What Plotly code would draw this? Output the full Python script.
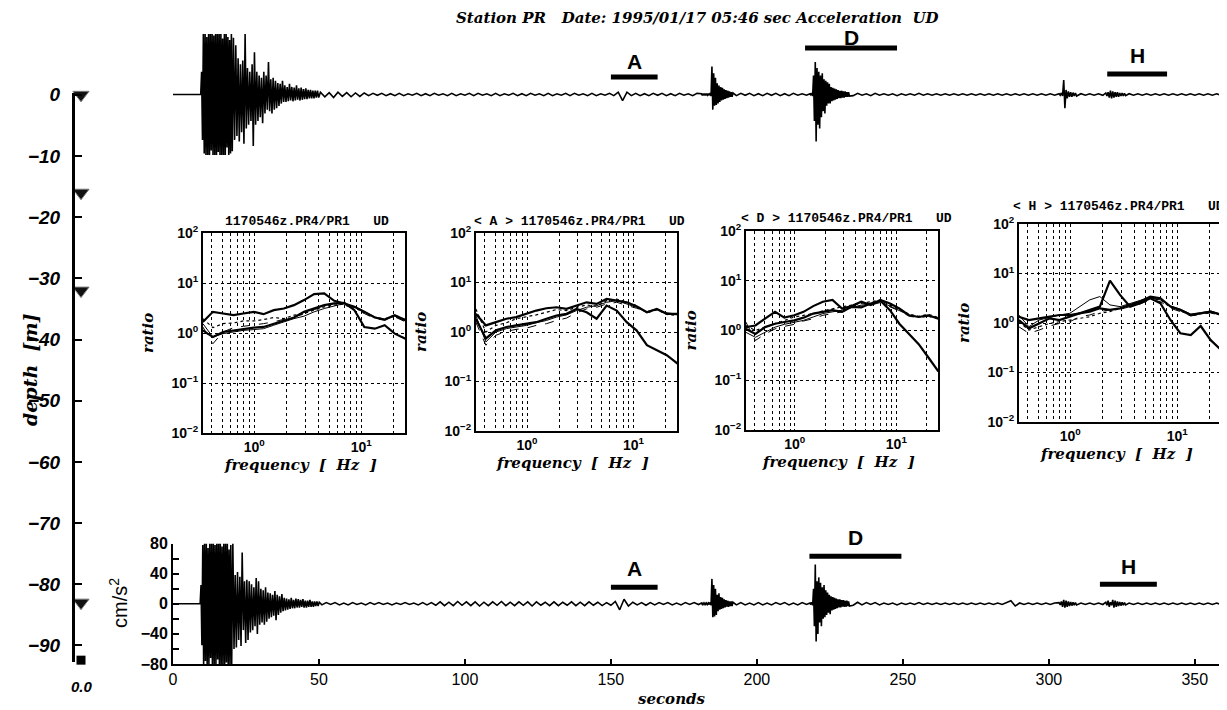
import plotly.graph_objects as go

W, H = 1227, 710          # target picture size
OFF = 8                   # page body margin in which the figure div is placed
FW, FH = W - OFF, H - OFF  # figure size so that it fills the window exactly

# ======================= DATA =======================
# --- spectral ratio panels (ratio PR4/PR1 vs frequency) ---
FREQ_HZ = [0.33, 0.41, 0.51, 0.64, 0.79, 0.99, 1.22, 1.52, 1.89, 2.35, 2.92,
           3.63, 4.51, 5.6, 6.97, 8.65, 10.7, 13.4, 16.6, 20.6, 26.0]
PANEL_TITLES = ["1170546z.PR4/PR1\u00a0\u00a0\u00a0UD",
                "<\u00a0A\u00a0>\u00a01170546z.PR4/PR1\u00a0\u00a0\u00a0UD",
                "<\u00a0D\u00a0>\u00a01170546z.PR4/PR1\u00a0\u00a0\u00a0UD",
                "<\u00a0H\u00a0>\u00a01170546z.PR4/PR1\u00a0\u00a0\u00a0UD"]

P1_UPPER = [1.67, 2.65, 2.45, 2.27, 2.45, 2.65, 2.38, 2.86, 3.09, 3.61, 4.55, 6.0, 6.19, 4.41, 3.9, 3.34, 2.65, 2.04, 1.86, 2.27, 1.8]
P1_LOWER = [1.13, 0.83, 1.05, 1.13, 1.22, 1.28, 1.32, 1.54, 1.8, 2.04, 2.65, 3.09, 3.61, 3.9, 4.02, 2.86, 1.32, 1.22, 1.43, 0.97, 0.77]
P1_THIN1 = [1.54, 0.83, 0.97, 1.05, 1.13, 1.17, 1.22, 1.43, 1.67, 1.94, 2.17, 2.65, 3.09, 3.44, 3.9, 3.34, 2.65, 2.1, 1.86, 2.17, 1.74]
P1_THIN2 = [1.94, 1.28, 1.54, 1.59, 1.74, 1.74, 1.86, 2.04, 1.94, 2.27, 2.45, 2.86, 3.34, 3.61, 3.78, 3.24, 2.53, 2.04, 1.91, 2.27, 1.86]
P1_THIN3 = [1.32, 0.61, 1.05, 1.28, 1.36, 1.43, 1.54, 1.67, 1.86, 2.1, 2.38, 2.95, 3.44, 3.9, 3.61, 3.09, 2.45, 1.94, 1.8, 2.1, 1.67]

P2_UPPER = [2.33, 1.36, 1.58, 1.85, 2.0, 2.33, 2.71, 3.02, 3.16, 2.93, 3.41, 3.98, 3.69, 4.64, 4.3, 3.98, 3.31, 2.51, 2.93, 2.33, 2.33]
P2_LOWER = [1.85, 0.74, 1.08, 1.26, 1.36, 1.47, 1.58, 1.85, 2.15, 2.33, 2.93, 2.51, 1.85, 3.41, 2.71, 1.58, 1.08, 0.54, 0.43, 0.34, 0.23]
P2_THIN1 = [2.15, 0.63, 1.0, 1.17, 1.26, 1.36, 1.54, 1.71, 2.0, 2.22, 2.71, 3.16, 3.41, 3.98, 4.3, 3.69, 3.16, 2.51, 2.84, 2.33, 2.22]
P2_THIN2 = [2.93, 1.0, 1.36, 1.54, 1.85, 2.0, 2.22, 2.51, 2.84, 2.71, 3.16, 3.52, 3.31, 4.3, 4.64, 3.98, 3.41, 2.44, 2.8, 2.26, 2.15]
P2_THIN3 = [1.58, 0.54, 0.86, 1.03, 1.13, 1.2, 1.36, 1.47, 1.71, 1.91, 2.44, 2.93, 3.16, 3.69, 3.98, 3.52, 3.02, 2.59, 2.93, 2.44, 2.29]

P3_UPPER = [1.17, 1.26, 1.73, 2.37, 1.81, 2.02, 2.37, 3.09, 3.79, 4.1, 2.77, 3.09, 3.79, 3.24, 4.1, 3.5, 2.77, 2.02, 1.87, 2.02, 1.73]
P3_LOWER = [1.08, 0.85, 1.17, 1.37, 1.48, 1.6, 1.81, 2.19, 2.37, 2.56, 2.37, 2.99, 2.9, 3.5, 3.97, 2.56, 1.37, 0.85, 0.53, 0.29, 0.15]
P3_THIN1 = [0.92, 0.73, 0.92, 1.17, 1.33, 1.48, 1.6, 1.87, 2.19, 2.37, 2.56, 2.9, 3.24, 3.4, 3.79, 3.09, 2.56, 2.02, 1.87, 2.02, 1.73]
P3_THIN2 = [1.26, 1.0, 1.17, 1.37, 1.6, 1.87, 2.02, 2.19, 2.48, 2.77, 2.99, 3.24, 3.5, 3.79, 4.1, 3.24, 2.64, 2.12, 1.93, 2.12, 1.81]
P3_THIN3 = [1.48, 0.63, 0.85, 1.08, 1.21, 1.33, 1.55, 1.73, 2.02, 2.19, 2.37, 2.77, 3.09, 3.24, 3.65, 2.99, 2.48, 1.93, 1.81, 1.93, 1.65]

P4_UPPER = [1.34, 1.15, 1.24, 1.34, 1.45, 1.45, 1.57, 1.7, 1.98, 1.84, 1.98, 2.32, 2.71, 3.42, 3.16, 2.14, 1.84, 1.45, 1.57, 1.7, 1.45]
P4_LOWER = [1.15, 0.78, 0.98, 1.24, 1.15, 1.34, 1.57, 1.84, 2.14, 7.2, 3.7, 2.14, 2.5, 3.16, 2.5, 1.15, 0.62, 0.57, 0.87, 0.45, 0.28]
P4_THIN1 = [1.45, 0.84, 1.15, 1.3, 1.45, 1.57, 2.14, 2.93, 3.42, 2.32, 2.14, 2.5, 2.93, 3.31, 2.93, 2.21, 1.89, 1.52, 1.62, 1.75, 1.5]
P4_THIN2 = [1.06, 0.72, 0.84, 0.98, 1.06, 1.15, 1.24, 1.34, 1.57, 1.7, 1.98, 2.32, 2.58, 3.16, 2.93, 2.08, 1.78, 1.43, 1.55, 1.62, 1.43]
P4_THIN3 = [0.84, 0.62, 0.72, 0.87, 0.98, 1.06, 1.34, 1.45, 1.7, 1.84, 1.89, 2.14, 2.43, 2.93, 2.71, 1.98, 1.7, 1.39, 1.48, 1.6, 1.39]

GRID_FREQ = [0.4, 0.5, 0.6, 0.7, 0.8, 0.9, 1, 2, 3, 4, 5, 6, 7, 8, 9, 10, 20]
RATIO_TICKS = [0.01, 0.1, 1, 10, 100]
RATIO_TICKTEXT = ["10<sup>\u22122</sup>", "10<sup>\u22121</sup>", "10<sup>0</sup>", "10<sup>1</sup>", "10<sup>2</sup>"]

# --- depth column ---
DEPTH_TICKS = [0, -10, -20, -30, -40, -50, -60, -70, -80, -90]
DEPTH_TICKTEXT = ["0", "\u221210", "\u221220", "\u221230", "\u221240", "\u221250", "\u221260", "\u221270", "\u221280", "\u221290"]
SENSOR_DEPTHS = [0, -16, -32, -83]
BASE_DEPTH = [-92.4]

# --- acceleration traces (cm/s^2), segments: start time, sample step, peak values ---
LOW_PRE = [0, 0]
LOW_MAIN = [25, -55, 78, -80, 80, -76, 80, -80, 74, -80, 80, -72, 80, -80, 80, -80, 78, -80, 80, -74,
            80, -80, 80, -80, 76, -80, 80, -80, 80, -78, 80, -80, 72, -80, 78]
LOW_CODA = [-80, 80, -60, 38, -58, 42, -48, 36, -56, 68, -35, 30, -52, 32, -48, 30, -38, 26, -35, 22,
            -30, 34, -40, 30, -28, 20, -25, 18, -28, 22, -24, 15, -20, 14, -18, 12, -16, 17, -22, 12,
            -15, 10, -12, 13, -10, 8, -9, 7, -8, 6, -7, 8, -6, 5, -6, 7, -5, 6, -5, 5,
            -4, 6, -5, 4, -5, 4, -4, 5, -4, 3, -4, 3, -3, 3, -3, 2]
LOW_Q1 = [-1.5, 1.5, -1, 1.5, -1.5, 1, -1.5, 1.5, -1, 1, -1.5, 1.5, -1, 1.5, -1, 1, -1.5, 1, -1, 1.5,
          -1, 1, -1.5, 1.5, -1.5, 1.5,
          -2, 2.5, -2.5, 2, -2.5, 3, -2, 2.5, -2.5, 2.5, -3, 2, -2.5, 2.5, -2, 3, -2.5, 2, -2.5, 2.5,
          -2, 2.5, -3, 2.5, -2, 2, -2.5, 2.5, -2.5, 2, -2, 2.5, -2.5, 2, -2.5, 2.5, -2, 2, -2.5, 1.5,
          -2, 3, -8, 6, -3, 2, -1.5, 1.5, -2, 1.5, -1.5, 1.5, -1, 1.5, -1.5, 1, -1.5, 1.5, -1, 1.5, -1]
LOW_E185 = [1, -1, 1, -1, 1, -1, 1, -1, 1, -1, 2, -2, 33, -18, 25, -17, 20, -15, 12, -10,
            14, -8, 9, -7, 8, -6, 6, -5, 5, -4, 4, -4, 3, -3, 3, -3, 2]
LOW_Q2 = [-1.5, 1.5, -1.5, 1, -1.5, 1.5, -1.5, 1, -1.5, 1.5, -1, 1.5, -1.5, 1, -1.5, 1.5, -1]
LOW_E220 = [1, -1, 2, -2, 20, -30, 52, -50, 30, -40, 35, -25, 28, -30, 22, -20, 25, -18, 18, -15,
            15, -12, 12, -14, 10, -9, 9, -8, 8, -7, 7, -6, 6, -5, 6, -5, 5, -4, 5, -4,
            4, -4, 4, -3, 3, -3]
LOW_Q3 = [-2, 2, -1.5, 1.5, -1, 1.5, -1.5, 1, -1, 1, -1.5, 1, -1, 1, -1, 1.5, -1, 1, -1, 1,
          -1, 1, -1, 1, -1, 1, -1, 1, -1, 1, -1, 1, -1, 1, -1, 1, 4, -3, 1, -1,
          1, -1, 1, -1, 1, -1, 1]
LOW_E305 = [1.5, -1.5, 3, -4, 5, -5, 4, -4, 3, -3, 2.5, -2.5, 2, -2, 1.5, -1.5]
LOW_Q4 = [1, -1, 1, -1, 1, -1]
LOW_EH = [2, -2, 4, -4, 2, -2, 5, -5, 4, -4, 3, -3, 2.5, -2.5, 2, -2, 1.5, -1.5]
LOW_Q5 = [1, -1, 1, -1, 1, -1, 1, -1, 1, -1, 1, -1, 1, -1, 1, -1,
          1, -1, 1, -1, 1, -1, 1]

TOP_PRE = [0, 0]
TOP_MAIN = [30, -60, 80, -78, 80, -80, 76, -80, 80, -80, 80, -74, 80, -80, 78, -80, 80, -80, 80, -76,
            80, -80, 80, -80, 74, -80, 80, -80, 80, -70, 76, -80, 72, -78, 80, -75]
TOP_CODA = [75, -60, 65, -55, 48, -62, 40, -50, 45, -65, 80, -45, 35, -40, 30, -35, 40, -68, 56, -40,
            30, -35, 25, -30, 22, -38, 30, -25, 25, -20, 43, -22, 20, -25, 22, -20, 18, -18, 15, -15,
            14, -12, 18, -10, 12, -10, 10, -9, 14, -8, 10, -9, 9, -8, 12, -7, 8, -8, 9, -7,
            7, -6, 8, -6, 6, -5, 6, -5, 5, -5, 5, -4, 5, -4]
TOP_Q1 = [3, -3, 2.5, -4, 3, -2.5, 2.5, -3, 2, -2.5, 2,
          -1.5, 1.5, -1, 1.5, -1.5, 1, -1.5, 1.5, -1.5, 1, -1, 1.5, -1.5, 1, -1.5, 1.5, -1, 1, -1.5, 1.5,
          -1.5, 1, -1, 1.5, -1.5, 1.5, -1, 1, -1.5, 1.5, -1.5, 1, -1, 1.5, -1.5, 1, -1.5, 1.5, -1, 1,
          -1.5, 1.5, -1.5, 1, -1, 1.5, -1.5, 1.5, -1, 1, -1.5, 1.5, -1.5, 1, -1, 1.5, -1.5,
          3, -8,
          3, -1.5, 1.5, -1.5, 1, -1.5, 1.5, -1, 1.5, -1.5, 1, -1.5, 1.5, -1, 1, -1.5, 1.5]
TOP_E185 = [1, -1, 1, -1, 1, -1, 1, -1, 1, -1, 2, -2, 37, -20, 28, -15, 22, -14, 15, -12,
            12, -10, 10, -8, 9, -7, 7, -6, 6, -5, 5, -4, 4, -3, 3, -3, 2]
TOP_Q2 = [-1.5, 1.5, -1, 1.5, -1.5, 1, -1.5, 1.5, -1, 1.5, -1.5, 1, -1.5, 1.5, -1, 1, -1]
TOP_E220 = [1, -1, 2, -2, 25, -35, 43, -62, 35, -40, 30, -45, 25, -30, 28, -22, 20, -25, 18, -15,
            16, -12, 14, -12, 10, -9, 9, -8, 8, -7, 7, -6, 6, -5, 5, -5, 5, -4, 4, -4,
            4, -3, 3, -3, 3, -2]
TOP_Q3 = [-1.5, 1.5, -1, 1, -1.5, 1.5, -1, 1, -1, 1, -1.5, 1, -1, 1, -1, 1.5, -1, 1, -1, 1,
          -1, 1, -1, 1, -1, 1, -1, 1, -1, 1, -1, 1, -1, 1, -1, 1, -1, 1, -1, 1,
          -1, 1, -1, 1, -1, 1, -1]
TOP_E305 = [1, -1, 2, -2, 19, -18, 6, -5, 4, -3, 3, -3, 2.5, -2, 2, -2]
TOP_Q4 = [1, -1, 1, -1, 1, -1]
TOP_EH = [2, -2, 3, -4, 5, -5, 4, -4, 3, -3, 3, -3, 2, -2, 2, -2, 1.5, -1.5]
TOP_Q5 = [1, -1, 1, -1, 1, -1, 1, -1, 1, -1, 1, -1, 1, -1, 1, -1, 1, -1, 1, -1, 1, -1, 1]

LOW_SEGMENTS = [(0.0, 9.3, LOW_PRE), (9.6, 0.3, LOW_MAIN), (20.1, 0.4, LOW_CODA), (51.0, 1.5, LOW_Q1),
                (181.0, 0.3, LOW_E185), (193.0, 1.5, LOW_Q2), (218.2, 0.3, LOW_E220), (233.0, 1.5, LOW_Q3),
                (303.5, 0.4, LOW_E305), (311.0, 1.5, LOW_Q4), (319.5, 0.4, LOW_EH), (327.5, 1.5, LOW_Q5)]
TOP_SEGMENTS = [(0.0, 9.5, TOP_PRE), (9.8, 0.3, TOP_MAIN), (20.7, 0.4, TOP_CODA), (50.5, 1.5, TOP_Q1),
                (181.0, 0.3, TOP_E185), (193.0, 1.5, TOP_Q2), (218.2, 0.3, TOP_E220), (233.0, 1.5, TOP_Q3),
                (303.5, 0.4, TOP_E305), (311.0, 1.5, TOP_Q4), (319.5, 0.4, TOP_EH), (327.5, 1.5, TOP_Q5)]

# analysis windows (seconds)
WIN_NAMES = ["A", "D", "H"]
TOP_WIN_START = [150.0, 216.5, 320.0]
TOP_WIN_END = [166.0, 248.0, 340.5]
LOW_WIN_START = [150.0, 218.0, 317.5]
LOW_WIN_END = [166.0, 249.5, 337.0]

TIME_TICKS = [0, 50, 100, 150, 200, 250, 300, 350]
ACC_TICKS = [80, 60, 40, 20, 0, -20, -40, -60, -80]
ACC_TICKTEXT = ["80", "", "40", "", "0", "", "\u221240", "", "\u221280"]

# ======================= HELPERS =======================
def build(segments):
    ts, vs = [], []
    for t0, dt, vals in segments:
        for i, v in enumerate(vals):
            ts.append(t0 + i * dt)
            vs.append(v)
    return ts, vs


def px(x):
    return (x - OFF) / FW


def py(y):
    return 1 - (y - OFF) / FH


def xd(a, b):
    return [px(a), px(b)]


def yd(top, bot):
    return [py(bot), py(top)]


SERIF = "DejaVu Serif"
SANS = "Liberation Sans"

fig = go.Figure()

lt, lv = build(LOW_SEGMENTS)
tt, tv = build(TOP_SEGMENTS)
fig.add_trace(go.Scatter(x=lt, y=lv, mode="lines", line=dict(color="black", width=1.6),
                         xaxis="x", yaxis="y", hoverinfo="skip", showlegend=False))
fig.add_trace(go.Scatter(x=tt, y=tv, mode="lines", line=dict(color="black", width=1.6),
                         xaxis="x2", yaxis="y2", hoverinfo="skip", showlegend=False))

fig.add_trace(go.Scatter(x=[0.4] * len(SENSOR_DEPTHS), y=SENSOR_DEPTHS, mode="markers",
                         marker=dict(symbol="triangle-down", size=14, color="#111",
                                     line=dict(color="#777", width=1)),
                         xaxis="x3", yaxis="y3", cliponaxis=False, showlegend=False, hoverinfo="skip"))
fig.add_trace(go.Scatter(x=[0.4], y=BASE_DEPTH, mode="markers",
                         marker=dict(symbol="square", size=9, color="black"),
                         xaxis="x3", yaxis="y3", cliponaxis=False, showlegend=False, hoverinfo="skip"))

PANELS = [
    (P1_UPPER, P1_LOWER, P1_THIN1, P1_THIN2, P1_THIN3),
    (P2_UPPER, P2_LOWER, P2_THIN1, P2_THIN2, P2_THIN3),
    (P3_UPPER, P3_LOWER, P3_THIN1, P3_THIN2, P3_THIN3),
    (P4_UPPER, P4_LOWER, P4_THIN1, P4_THIN2, P4_THIN3),
]
CURVE_STYLES = [dict(width=2.2, dash="solid"), dict(width=2.2, dash="solid"),
                dict(width=1.0, dash="solid"), dict(width=1.2, dash="dot"), dict(width=1.0, dash="dash")]
BOXES = [(203, 405, 233, 433), (476, 677, 233, 431), (746, 938, 231, 430), (1019, 1221, 224, 422)]

for k, curves in enumerate(PANELS):
    ax = k + 4
    for c, st in zip(curves, CURVE_STYLES):
        fig.add_trace(go.Scatter(x=FREQ_HZ, y=c, mode="lines",
                                 line=dict(color="black", width=st["width"], dash=st["dash"]),
                                 xaxis=f"x{ax}", yaxis=f"y{ax}", hoverinfo="skip", showlegend=False))

layout = dict(
    template="none",
    width=FW, height=FH, autosize=False, margin=dict(l=0, r=0, t=0, b=0, pad=0, autoexpand=False),
    paper_bgcolor="white", plot_bgcolor="rgba(0,0,0,0)", showlegend=False,
    xaxis=dict(domain=xd(173, 1224), range=[0, 360], anchor="y", showline=True, linecolor="black",
               linewidth=2, ticks="inside", ticklen=5, tickwidth=1.5, tickcolor="black",
               tickvals=TIME_TICKS, tickfont=dict(family=SANS, size=16, color="black"),
               showgrid=False, zeroline=False, automargin=False),
    yaxis=dict(domain=yd(543.5, 664), range=[-80, 80], anchor="x", showline=True, linecolor="black",
               linewidth=2, ticks="inside", ticklen=6, tickwidth=1.5, tickcolor="black",
               tickvals=ACC_TICKS, ticktext=ACC_TICKTEXT,
               tickfont=dict(family=SANS, size=16, color="black", weight="bold"),
               showgrid=False, zeroline=False, automargin=False),
    xaxis2=dict(domain=xd(173, 1224), range=[0, 360], anchor="y2", visible=False, automargin=False),
    yaxis2=dict(domain=yd(34, 155), range=[-80, 80], anchor="x2", visible=False, automargin=False),
    xaxis3=dict(domain=xd(75, 90), range=[0, 1], anchor="y3", visible=False, automargin=False),
    yaxis3=dict(domain=yd(93, 662), range=[-92.7, 0.3], anchor="x3", showline=True, linecolor="black",
                linewidth=3, ticks="inside", ticklen=7, tickwidth=2, tickcolor="black",
                tickvals=DEPTH_TICKS, ticktext=DEPTH_TICKTEXT, ticklabelstandoff=8,
                tickfont=dict(family=SANS, size=19, color="black", weight="bold", style="italic"),
                showgrid=False, zeroline=False, automargin=False),
)

for k, (x0, x1, y0, y1) in enumerate(BOXES):
    ax = k + 4
    layout[f"xaxis{ax}"] = dict(domain=xd(x0, x1), type="log", range=[-0.48, 1.41], anchor=f"y{ax}",
                                showline=True, mirror=True, linecolor="black", linewidth=2,
                                tickvals=GRID_FREQ,
                                ticktext=["10<sup>0</sup>" if f == 1 else ("10<sup>1</sup>" if f == 10 else "")
                                          for f in GRID_FREQ],
                                ticks="", showgrid=True, gridcolor="black", griddash="dot", gridwidth=1.3,
                                tickfont=dict(family=SANS, size=14, color="black", weight="bold"),
                                zeroline=False, automargin=False)
    layout[f"yaxis{ax}"] = dict(domain=yd(y0, y1), type="log", range=[-2, 2], anchor=f"x{ax}",
                                showline=True, mirror=True, linecolor="black", linewidth=2,
                                tickvals=RATIO_TICKS, ticktext=RATIO_TICKTEXT, ticks="",
                                showgrid=True, gridcolor="black", griddash="dot", gridwidth=1.3,
                                tickfont=dict(family=SANS, size=14, color="black", weight="bold"),
                                zeroline=False, automargin=False)

fig.update_layout(**layout)


def ann(text, x, y, size, family=SERIF, weight="normal", style="normal", angle=0,
        xanchor="center", yanchor="middle"):
    return dict(text=text, x=px(x), y=py(y), xref="paper", yref="paper", showarrow=False,
                textangle=angle, xanchor=xanchor, yanchor=yanchor,
                font=dict(family=family, size=size, color="black", weight=weight, style=style))


annots = [
    ann("Station\u00a0PR\u00a0\u00a0\u00a0Date:\u00a01995/01/17\u00a005:46\u00a0sec\u00a0Acceleration\u00a0\u00a0UD",
        697, 18, 15, SERIF, "bold", "italic"),
    ann("depth\u00a0\u00a0[m]", 30, 370, 19, SERIF, "bold", "italic", angle=-90),
    ann("0.0", 82, 686, 15, SANS, "bold", "italic"),
    ann("cm/s<sup>2</sup>", 118, 603, 20, SANS, "normal", "normal", angle=-90),
    ann("seconds", 672, 699, 15, SERIF, "bold", "italic"),
]
TITLE_CENTER_SHIFT = [3, 3, 4, -2]
TITLE_RAISE = [12, 12, 12, 18]
for k, (x0, x1, y0, y1) in enumerate(BOXES):
    annots.append(ann(PANEL_TITLES[k], (x0 + x1) / 2 + TITLE_CENTER_SHIFT[k], y0 - TITLE_RAISE[k], 13,
                      "Liberation Mono", "bold"))
    annots.append(ann("ratio", x0 - 55, (y0 + y1) / 2, 15, SERIF, "bold", "italic", angle=-90))
    annots.append(ann("frequency\u00a0\u00a0[\u00a0\u00a0Hz\u00a0\u00a0]", (x0 + x1) / 2 - 4, y1 + 32, 15,
                      SERIF, "bold", "italic"))

shapes = []
TOP_BAR_LEVEL = [23, 61.5, 27]
LOW_BAR_LEVEL = [22, 63, 26]
TOP_LETTER_PX = [62, 38, 55]
LOW_LETTER_PX = [568, 537, 566]
for i, name in enumerate(WIN_NAMES):
    shapes.append(dict(type="line", xref="x2", yref="y2", x0=TOP_WIN_START[i], x1=TOP_WIN_END[i],
                       y0=TOP_BAR_LEVEL[i], y1=TOP_BAR_LEVEL[i], line=dict(color="black", width=5)))
    shapes.append(dict(type="line", xref="x", yref="y", x0=LOW_WIN_START[i], x1=LOW_WIN_END[i],
                       y0=LOW_BAR_LEVEL[i], y1=LOW_BAR_LEVEL[i], line=dict(color="black", width=5)))
    annots.append(dict(text=name, xref="x2", yref="paper", x=(TOP_WIN_START[i] + TOP_WIN_END[i]) / 2,
                       y=py(TOP_LETTER_PX[i]), showarrow=False, yanchor="middle",
                       font=dict(family=SANS, size=21, color="black", weight="bold")))
    annots.append(dict(text=name, xref="x", yref="paper", x=(LOW_WIN_START[i] + LOW_WIN_END[i]) / 2,
                       y=py(LOW_LETTER_PX[i]), showarrow=False, yanchor="middle",
                       font=dict(family=SANS, size=21, color="black", weight="bold")))

fig.update_layout(annotations=annots, shapes=shapes)
fig.write_html("out.html")
